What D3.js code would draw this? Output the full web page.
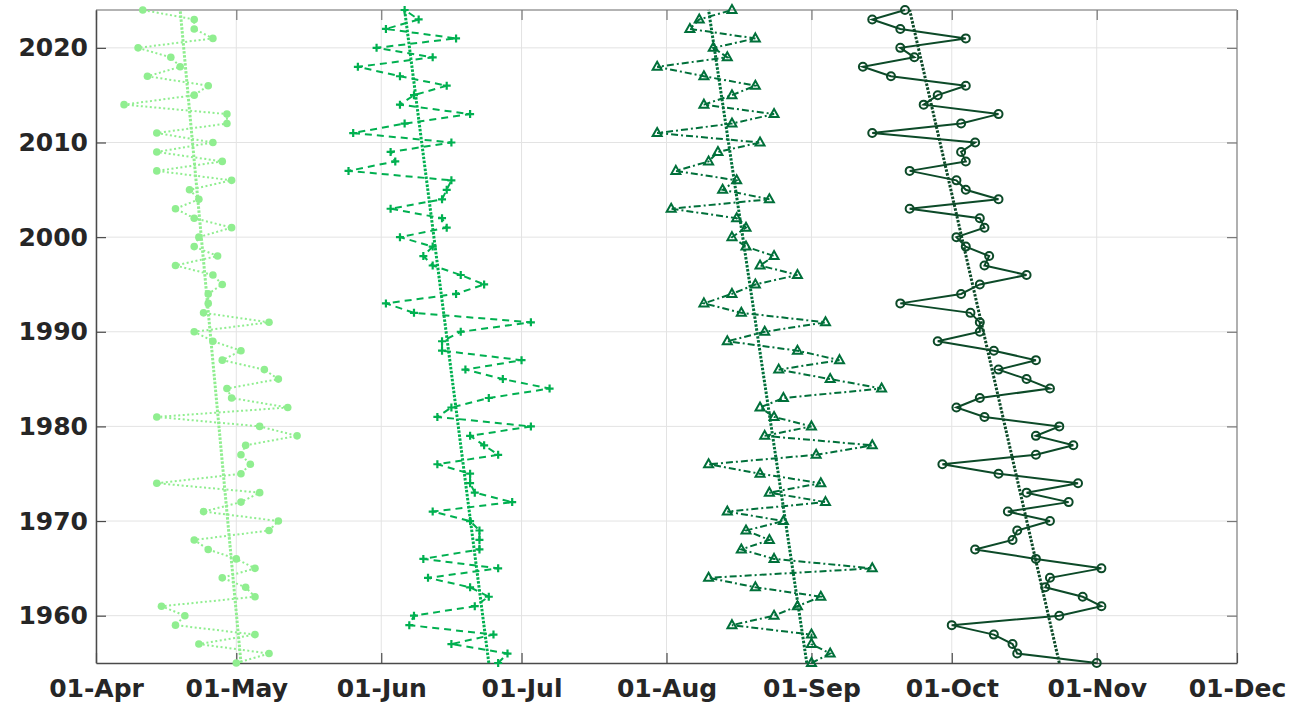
<!DOCTYPE html>
<html>
<head>
<meta charset="UTF-8">
<title>Dates by year</title>
<style>
  body { margin: 0; background: #fff; }
  text { font-family: "DejaVu Sans", sans-serif; font-weight: bold; }
</style>
</head>
<body>
<div id="chart"></div>
<script src="https://d3js.org/d3.v7.min.js"></script>
<script>
// years on the y axis, 1955 .. 2024
var years = d3.range(1955, 2025);

// day of year (non-leap) for each year, 1955 first
var series1 = [121,128,113,125,108,110,105,125,123,118,
               125,121,115,112,128,130,114,122,126,104,
               122,124,122,123,134,126,104,132,120,119,
               130,127,118,122,116,112,128,114,115,115,
               118,116,108,117,112,113,120,112,108,113,
               111,120,104,118,104,116,104,119,119,97,
               112,115,102,109,107,100,116,112,112,101];
var series2 = [177,179,167,176,158,159,172,175,171,162,
               177,161,173,173,173,171,163,180,172,171,
               171,164,177,174,171,184,164,167,175,188,
               178,170,182,165,165,169,184,159,153,168,
               174,169,163,161,163,156,166,165,154,165,
               166,167,145,155,154,167,146,157,171,156,
               159,166,156,147,163,151,168,153,160,157];
var series3 = [244,248,244,244,227,236,241,246,232,222,
               257,236,229,235,230,238,226,247,235,246,
               233,222,245,257,234,244,236,233,238,259,
               248,237,250,241,226,234,247,229,221,227,
               232,241,233,236,230,227,230,228,214,235,
               225,228,215,222,224,233,211,227,236,221,
               227,232,221,211,226,223,232,218,220,227];
var series4 = [305,288,287,283,274,297,306,302,294,295,
               306,292,279,287,288,295,286,299,290,301,
               284,272,292,300,292,297,281,275,280,295,
               290,284,292,283,271,280,280,278,263,276,
               280,290,281,282,277,275,281,280,265,284,
               277,275,265,277,276,279,257,276,284,268,
               271,277,261,255,266,263,277,263,257,264];

var yTicks = [1960, 1970, 1980, 1990, 2000, 2010, 2020];

var width = 1289, height = 702,
    margin = {top: 10, right: 52, bottom: 39, left: 96};

var svg = d3.select("#chart").append("svg")
    .attr("width", width)
    .attr("height", height);

function doyDate(d) { return new Date(Date.UTC(2023, 0, d)); }

var x = d3.scaleUtc()
    .domain([new Date(Date.UTC(2023, 3, 1)), new Date(Date.UTC(2023, 11, 1))])
    .range([margin.left, width - margin.right]);
var y = d3.scaleLinear()
    .domain([1955, 2024])
    .range([height - margin.bottom, margin.top]);

var xTicks = x.ticks(d3.utcMonth.every(1));
var x0 = margin.left, x1 = width - margin.right,
    y0 = height - margin.bottom, y1 = margin.top;

// grid
var grid = svg.append("g").attr("stroke", "#e3e3e3").attr("stroke-width", 1);
grid.selectAll(".gx").data(xTicks).join("line")
    .attr("x1", d => x(d)).attr("x2", d => x(d))
    .attr("y1", y0).attr("y2", y1);
grid.selectAll(".gy").data(yTicks).join("line")
    .attr("x1", x0).attr("x2", x1)
    .attr("y1", d => y(d)).attr("y2", d => y(d));

// box
svg.append("line").attr("x1", x0).attr("x2", x1).attr("y1", y1).attr("y2", y1)
    .attr("stroke", "#9a9a9a").attr("stroke-width", 1.5);
svg.append("line").attr("x1", x1).attr("x2", x1).attr("y1", y1).attr("y2", y0)
    .attr("stroke", "#9a9a9a").attr("stroke-width", 1.5);

// axes, ticks pointing inward
var xAxis = svg.append("g")
    .attr("transform", "translate(0," + y0 + ")")
    .call(d3.axisBottom(x).tickValues(xTicks).tickFormat(d3.utcFormat("%d-%b"))
          .tickSizeInner(-10).tickSizeOuter(0).tickPadding(16));
var xAxisTop = svg.append("g")
    .attr("transform", "translate(0," + y1 + ")")
    .call(d3.axisTop(x).tickValues(xTicks).tickFormat("")
          .tickSizeInner(-10).tickSizeOuter(0));
var yAxis = svg.append("g")
    .attr("transform", "translate(" + x0 + ",0)")
    .call(d3.axisLeft(y).tickValues(yTicks).tickFormat(d3.format("d"))
          .tickSizeInner(-10).tickSizeOuter(0).tickPadding(8));
var yAxisRight = svg.append("g")
    .attr("transform", "translate(" + x1 + ",0)")
    .call(d3.axisRight(y).tickValues(yTicks).tickFormat("")
          .tickSizeInner(-10).tickSizeOuter(0));

[xAxis, yAxis].forEach(function(g) {
  g.select(".domain").attr("stroke", "#4a4a4a").attr("stroke-width", 1.5);
  g.selectAll(".tick line").attr("stroke", "#4a4a4a").attr("stroke-width", 1.2);
  g.selectAll("text").attr("font-size", "25px").attr("fill", "#262626")
    .attr("font-family", "DejaVu Sans").attr("font-weight", "bold");
});
[xAxisTop, yAxisRight].forEach(function(g) {
  g.select(".domain").remove();
  g.selectAll(".tick line").attr("stroke", "#777").attr("stroke-width", 1.2);
});

// series
var styles = [
  {data: series1, color: "#90ee90", dash: "2,2.5", width: 2, marker: "dot"},
  {data: series2, color: "#00b050", dash: "7,5", width: 2, marker: "plus"},
  {data: series3, color: "#00703a", dash: "7,3,2,3", width: 2, marker: "tri"},
  {data: series4, color: "#0c4a28", dash: null, width: 2, marker: "circle"}
];

var line = d3.line()
    .x(d => x(doyDate(d.v)))
    .y(d => y(d.yr));

function fit(vals) {
  var mx = d3.mean(years), my = d3.mean(vals);
  var sxy = d3.sum(years, (t, i) => (t - mx) * (vals[i] - my));
  var sxx = d3.sum(years, t => (t - mx) * (t - mx));
  var b = sxy / sxx, a = my - b * mx;
  return [1955, 2024].map(t => ({yr: t, v: a + b * t}));
}

styles.forEach(function(s) {
  var pts = years.map((t, i) => ({yr: t, v: s.data[i]}));
  var g = svg.append("g");

  g.append("path").datum(pts)
      .attr("d", line)
      .attr("fill", "none")
      .attr("stroke", s.color)
      .attr("stroke-width", s.width)
      .attr("stroke-dasharray", s.dash);

  // trend
  g.append("path").datum(fit(s.data))
      .attr("d", line)
      .attr("fill", "none")
      .attr("stroke", s.color)
      .attr("stroke-width", 3)
      .attr("stroke-dasharray", "2.5,1.5");

  var m = g.selectAll(".m").data(pts).join("g")
      .attr("transform", d => "translate(" + x(doyDate(d.v)) + "," + y(d.yr) + ")");
  if (s.marker === "dot") {
    m.append("circle").attr("r", 3.8).attr("fill", s.color);
  } else if (s.marker === "plus") {
    m.append("path").attr("d", "M-4,0H4M0,-4V4")
      .attr("stroke", s.color).attr("stroke-width", 2.2);
  } else if (s.marker === "tri") {
    m.append("path").attr("d", "M0,-5L4.5,3L-4.5,3Z")
      .attr("fill", "none").attr("stroke", s.color).attr("stroke-width", 2);
  } else {
    m.append("circle").attr("r", 4).attr("fill", "none")
      .attr("stroke", s.color).attr("stroke-width", 2);
  }
});
</script>
</body>
</html>
